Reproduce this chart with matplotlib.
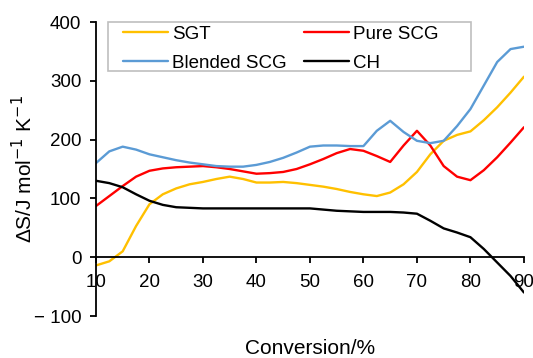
import numpy as np
import matplotlib.pyplot as plt
from matplotlib.patches import Rectangle

plt.rcParams['font.family'] = ['Liberation Sans', 'DejaVu Sans']

# conversion grid (%), shared by all series
conversion = np.arange(10, 90.1, 2.5)

# entropy change, J mol-1 K-1
sgt = [-14, -7, 10, 53, 90, 107, 117, 124, 128, 133, 137, 133, 127, 127,
       128, 126, 123, 120, 116, 111, 107, 104, 110, 124, 145, 175, 198,
       208, 214, 233, 255, 280, 307]
pure_scg = [87, 104, 121, 137, 147, 151, 153, 154, 155, 153, 150, 146, 142,
            143, 145, 150, 158, 167, 177, 184, 181, 172, 162, 190, 215, 190,
            155, 137, 131, 148, 170, 195, 221]
blended_scg = [160, 180, 188, 183, 175, 170, 165, 161, 158, 155, 154, 154,
               157, 162, 169, 178, 188, 190, 190, 189, 189, 215, 232, 213,
               198, 194, 198, 223, 252, 292, 332, 354, 358]
ch = [130, 126, 119, 107, 96, 89, 85, 84, 83, 83, 83, 83, 83, 83, 83, 83,
      83, 81, 79, 78, 77, 77, 77, 76, 74, 62, 49, 42, 34, 14, -9, -32, -60]

series = [
    ("SGT", sgt, "#FFC000"),
    ("Pure SCG", pure_scg, "#FF0000"),
    ("Blended SCG", blended_scg, "#5B9BD5"),
    ("CH", ch, "#000000"),
]

fig = plt.figure(figsize=(5.33, 3.58), dpi=100)
ax = fig.add_axes([0.180, 0.1173, 0.803, 0.8212])

lines = {}
for name, vals, color in series:
    lines[name], = ax.plot(conversion, vals, color=color, lw=1.7,
                           solid_capstyle='round', solid_joinstyle='round',
                           label=name)

ax.set_xlim(10, 90)
ax.set_ylim(-100, 400)
ax.set_xticks(np.arange(10, 91, 10))
ax.set_yticks(np.arange(-100, 401, 100))
ax.set_yticklabels(['\u2212 100'] + [str(v) for v in range(0, 401, 100)])

# axes cross at x=10, y=0
ax.spines['top'].set_visible(False)
ax.spines['right'].set_visible(False)
ax.spines['left'].set_position(('data', 10))
ax.spines['bottom'].set_position(('data', 0))
for s in ('left', 'bottom'):
    ax.spines[s].set_linewidth(1.3)
ax.tick_params(axis='both', direction='out', length=4.5, width=1.3,
               labelsize=13.5)
ax.tick_params(axis='x', pad=7.5)
ax.tick_params(axis='y', pad=6)

ax.set_xlabel("Conversion/%", fontsize=15)
ax.xaxis.set_label_coords(0.5, -0.079)
ax.set_ylabel("\u0394S/J mol$^{\u22121}$ K$^{\u22121}$", fontsize=15)
ax.yaxis.set_label_coords(-0.14, 0.5)

# legend: two rows, SGT / Pure SCG on top, Blended SCG / CH below
order = ["SGT", "Blended SCG", "Pure SCG", "CH"]
leg = ax.legend([lines[n] for n in order], order, ncol=2, fontsize=13.5,
                loc='upper left', bbox_to_anchor=(0.049, 1.006),
                frameon=False, handlelength=2.4, columnspacing=0.9,
                handletextpad=0.25, labelspacing=0.62, borderpad=0.3,
                borderaxespad=0)
ax.add_patch(Rectangle((0.028, 0.833), 0.848, 0.167, transform=ax.transAxes,
                       fill=False, edgecolor='#BFBFBF', lw=1.2,
                       clip_on=False, zorder=4))

fig.savefig("out.png", dpi=100)
